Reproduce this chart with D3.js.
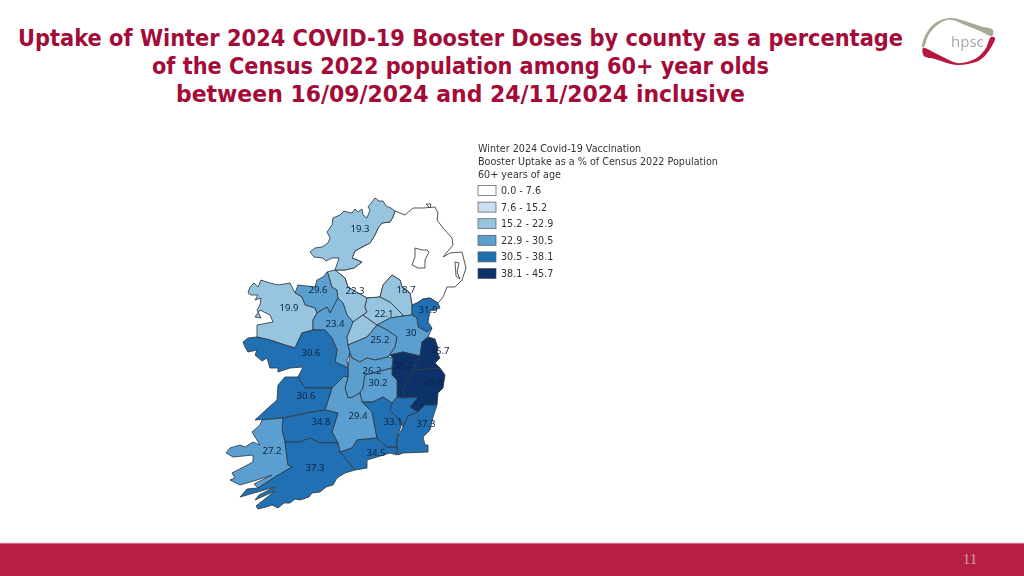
<!DOCTYPE html>
<html><head><meta charset="utf-8">
<script src="https://cdn.jsdelivr.net/npm/d3@7"></script>
<style>html,body{margin:0;padding:0;background:#fff}svg{display:block}</style>
</head><body><svg id="c" width="1024" height="576"></svg>
<script>
// ---- data ----
const titleLines = ["Uptake of Winter 2024 COVID-19 Booster Doses by county as a percentage",
  "of the Census 2022 population among 60+ year olds",
  "between 16/09/2024 and 24/11/2024 inclusive"];
const titleWidths = [885,617,569];
const legendTitle = ["Winter 2024 Covid-19 Vaccination","Booster Uptake as a % of Census 2022 Population","60+ years of age"];
const classBreaks = [7.6,15.2,22.9,30.5,38.1];
const classLabels = ["0.0 - 7.6","7.6 - 15.2","15.2 - 22.9","22.9 - 30.5","30.5 - 38.1","38.1 - 45.7"];
const classColours = ["#ffffff","#cadef1","#97c5e0","#5a9fd0","#2070b4","#08306b"];
const countyNames  = ["Donegal","Sligo","Leitrim","Mayo","Roscommon","Longford","Cavan","Monaghan","Louth","Meath","Westmeath","Dublin","Kildare","Wicklow","Offaly","Laois","Tipperary","Galway","Clare","Limerick","Kerry","Cork","Waterford","Kilkenny","Carlow","Wexford"];
const countyValues = [19.3,29.6,22.3,19.9,23.4,20.8,22.1,18.7,31.9,30,25.2,45.7,38.7,45.4,26.2,30.2,29.4,30.6,30.6,34.8,27.2,37.3,34.5,33.1,32,37.3];
// outlines, in map units
const countyRings = [
 [[375,198],[379,201],[383,201],[386,206],[391,208],[395,211],[393,217],[390,222],[382,223],[378,228],[375,235],[370,243],[362,247],[355,251],[352,258],[362,262],[354,268],[345,270],[335,270],[339,258],[332,258],[326,261],[323,258],[314,257],[310,252],[315,248],[322,247],[328,243],[330,238],[327,232],[332,225],[333,218],[340,215],[344,211],[347,212],[352,213],[355,209],[358,212],[362,209],[363,215],[367,218],[370,210],[368,207]],
 [[327,272],[328,273],[332,287],[337,290],[338,298],[330,313],[327,307],[317,313],[315,308],[305,305],[302,297],[295,293],[298,285],[315,287],[317,280],[323,277]],
 [[335,270],[345,278],[348,287],[358,293],[367,298],[365,307],[367,312],[353,322],[347,315],[343,303],[338,298],[337,290],[332,287],[328,273],[327,272]],
 [[261,280],[270,283],[278,285],[290,283],[295,293],[302,297],[305,305],[315,308],[317,313],[313,320],[313,330],[302,333],[295,348],[285,345],[270,340],[257,337],[257,325],[273,322],[270,315],[260,310],[255,317],[261,318],[257,310],[260,305],[261,298],[255,300],[258,295],[251,295],[248,293],[250,287],[254,283],[258,287]],
 [[317,313],[327,307],[330,313],[338,298],[343,303],[347,315],[353,322],[347,337],[348,345],[350,353],[347,360],[348,368],[335,362],[337,350],[332,338],[325,330],[313,330],[313,320]],
 [[353,322],[363,315],[377,325],[367,337],[348,345],[347,337]],
 [[367,298],[380,297],[390,302],[403,315],[403,316],[390,318],[377,325],[363,315],[367,312],[365,307]],
 [[380,297],[383,285],[392,275],[400,280],[402,287],[410,293],[412,305],[412,315],[403,316],[403,315],[390,302]],
 [[412,315],[412,305],[417,303],[423,299],[430,298],[438,303],[440,308],[430,311],[428,322],[432,328],[427,332],[418,327],[417,318]],
 [[377,325],[390,318],[403,316],[412,315],[417,318],[418,327],[427,332],[432,328],[428,337],[422,342],[420,356],[403,352],[390,355],[388,357],[395,347],[397,337],[387,330]],
 [[377,325],[387,330],[397,337],[395,347],[388,357],[375,360],[367,358],[360,362],[352,358],[350,353],[348,345],[367,337]],
 [[422,342],[428,337],[435,339],[438,348],[437,352],[440,358],[435,363],[440,368],[413,370],[420,356]],
 [[390,355],[403,352],[420,356],[413,370],[403,390],[405,398],[397,397],[397,380],[392,375],[392,368],[393,358]],
 [[413,370],[440,368],[445,375],[443,388],[438,393],[437,405],[425,405],[418,412],[410,407],[418,397],[405,398],[403,390]],
 [[348,368],[350,353],[352,358],[360,362],[367,358],[375,360],[388,357],[393,358],[392,368],[365,375],[363,388],[360,393],[353,397],[348,398],[345,388],[348,377]],
 [[365,375],[392,368],[392,375],[397,380],[397,397],[392,403],[383,397],[373,402],[362,402],[360,393],[363,388]],
 [[348,377],[345,388],[348,398],[353,397],[360,393],[362,402],[372,412],[377,438],[357,440],[352,448],[340,452],[338,443],[332,432],[338,413],[325,410],[332,388],[344,376]],
 [[243,342],[248,338],[257,337],[270,340],[285,345],[295,348],[302,333],[313,330],[325,330],[332,338],[337,350],[335,362],[348,368],[348,377],[344,376],[332,388],[318,388],[305,388],[303,385],[298,377],[303,367],[290,368],[278,372],[278,368],[270,368],[267,358],[262,361],[255,355],[257,350],[248,352],[245,347]],
 [[305,388],[318,388],[332,388],[325,410],[307,413],[283,418],[255,420],[268,408],[277,400],[278,385],[285,377],[298,377],[303,385]],
 [[283,418],[307,413],[325,410],[338,413],[332,432],[338,443],[320,443],[310,438],[300,442],[285,442],[282,430]],
 [[262,420],[283,418],[282,430],[285,442],[288,465],[292,467],[275,477],[258,488],[254,484],[272,475],[257,480],[240,485],[230,480],[235,478],[232,473],[253,462],[253,455],[233,457],[226,453],[230,448],[240,445],[245,447],[253,442],[260,445],[252,432],[260,425]],
 [[285,442],[300,442],[310,438],[320,443],[338,443],[340,452],[355,470],[345,473],[337,478],[333,485],[326,487],[320,492],[312,493],[309,497],[300,500],[295,499],[290,503],[284,503],[278,508],[272,505],[266,507],[258,509],[256,506],[275,491],[255,500],[259,495],[275,487],[240,497],[247,489],[258,488],[275,477],[292,467],[288,465]],
 [[340,452],[352,448],[357,440],[377,438],[387,447],[397,447],[397,455],[390,453],[377,457],[367,460],[367,468],[355,470]],
 [[362,402],[373,402],[383,397],[392,403],[390,410],[402,423],[397,438],[397,447],[387,447],[377,438],[372,412]],
 [[392,403],[397,397],[405,398],[418,397],[410,407],[418,412],[408,416],[403,427],[402,423],[390,410]],
 [[418,412],[425,405],[437,405],[433,417],[430,430],[423,437],[425,445],[428,445],[428,452],[403,453],[398,455],[397,447],[397,438],[403,427],[408,416]]
];
const northRing = [[395,211],[405,215],[413,208],[423,208],[435,207],[438,213],[437,220],[443,228],[452,238],[453,245],[443,257],[450,253],[462,252],[466,268],[462,280],[455,287],[447,287],[443,297],[438,303],[430,298],[423,299],[417,303],[412,305],[410,293],[402,287],[400,280],[392,275],[383,285],[380,297],[367,298],[358,293],[348,287],[345,278],[335,270],[345,270],[354,268],[362,262],[352,258],[355,251],[370,243],[375,235],[378,228],[382,223],[390,222],[393,217]];
const loughRings = [[[415,248],[422,250],[427,250],[429,252],[425,260],[425,268],[418,268],[412,265],[415,257]],[[455,262],[459,263],[457,272],[460,279],[456,276]],[[426,204],[431,204],[430,208],[428,206]]];
const labelSpots = [[360,229],[318,290],[355,291],[289,308],[335,324],null,[384,314],[406,290],[428,310],[411,333],[380,340],[440,351],[403,366],[434,383],[372,371],[378,383],[358,416],[311,353],[306,396],[321,422],[272,451],[315,468],[376,453],[393,422],null,[426,424]];
const logoTop = [[922,47],[926,34],[934,24],[944,19],[952,18],[965,21],[980,26],[993,30],[992,36],[980,31],[965,25],[952,20],[944,21],[935,27],[928,36],[924,47]];
const logoBottom = [[923,48],[924,56],[935,59],[947,63],[957,65],[968,64],[980,60],[988,52],[995,38],[991,37],[986,48],[978,57],[967,62],[957,63],[945,58],[935,53]];

// ---- drawing ----
const svg = d3.select("#c");
const defs = svg.append("defs");
defs.append("filter").attr("id","soft").append("feGaussianBlur").attr("stdDeviation",0.35);
svg.append("rect").attr("width",1024).attr("height",576).attr("fill","#fff");

// title
svg.append("g").selectAll("text").data(titleLines).join("text")
  .attr("x",460.5).attr("y",(d,i)=>46+i*28).attr("text-anchor","middle")
  .attr("textLength",(d,i)=>titleWidths[i]).attr("lengthAdjust","spacingAndGlyphs")
  .attr("font-family","'DejaVu Sans',sans-serif").attr("font-weight",700).attr("font-size",23)
  .attr("fill","#a30b38").text(d=>d);

// logo
const lineGen = d3.line().curve(d3.curveCatmullRomClosed.alpha(0.5));
const logo = svg.append("g").attr("filter","url(#soft)");
logo.append("path").attr("d",lineGen(logoTop)).attr("fill","#a9aa96");
logo.append("path").attr("d",lineGen(logoBottom)).attr("fill","#b8173f");
logo.append("text").attr("x",951).attr("y",47).attr("font-family","'Open Sans',sans-serif").attr("font-size",15).attr("fill","#a6a6a6").text("hpsc");

// map: GeoJSON rings must repeat their first point
const closed = r => [...r, r[0]];
const colour = d3.scaleThreshold().domain(classBreaks).range(classColours);
const features = countyNames.map((n,i)=>({type:"Feature",properties:{name:n,value:countyValues[i],spot:labelSpots[i]},geometry:{type:"Polygon",coordinates:[closed(countyRings[i])]}}));
const projection = d3.geoIdentity();
const path = d3.geoPath(projection);
const map = svg.append("g").attr("filter","url(#soft)");
const stroke = {"stroke":"#2f3a45","stroke-width":0.85,"stroke-linejoin":"round"};
const styled = s => { Object.entries(stroke).forEach(([k,v])=>s.attr(k,v)); return s; };
map.append("path").datum({type:"Polygon",coordinates:[closed(northRing)]}).attr("d",path).attr("fill",colour(0)).call(styled);
map.selectAll("path.lough").data(loughRings).join("path").attr("class","lough")
  .attr("d",r=>path({type:"Polygon",coordinates:[closed(r)]})).attr("fill","#fff").call(styled);
map.selectAll("path.county").data(features).join("path").attr("class","county")
  .attr("d",path).attr("fill",d=>colour(d.properties.value)).call(styled);
map.selectAll("text").data(features.filter(f=>f.properties.spot)).join("text")
  .attr("x",d=>projection(d.properties.spot)[0]).attr("y",d=>projection(d.properties.spot)[1])
  .attr("text-anchor","middle").attr("dominant-baseline","middle")
  .attr("font-family","'Noto Sans',sans-serif").attr("font-size",9.6).attr("fill","#0d2440")
  .text(d=>d.properties.value);

// legend
const rowY = d3.scalePoint().domain(classLabels).range([190.5,273.5]);
const legend = svg.append("g").attr("filter","url(#soft)").attr("font-family","'DejaVu Sans',sans-serif").attr("font-size",9.6).attr("fill","#333");
legend.selectAll("text.head").data(legendTitle).join("text").attr("class","head")
  .attr("x",478).attr("y",(d,i)=>151.5+i*13.3).text(d=>d);
const rows = legend.selectAll("g.row").data(classLabels).join("g").attr("class","row")
  .attr("transform",d=>`translate(0,${rowY(d)})`);
rows.append("rect").attr("x",478).attr("y",-5).attr("width",18).attr("height",10)
  .attr("fill",(d,i)=>classColours[i]).attr("stroke","#555").attr("stroke-width",0.7);
rows.append("text").attr("x",501).attr("y",3.5).text(d=>d);

// footer
svg.append("rect").attr("x",0).attr("y",543).attr("width",1024).attr("height",33).attr("fill","#b71f45");
svg.append("rect").attr("x",0).attr("y",542.5).attr("width",1024).attr("height",1).attr("fill","#f3c6d2");
svg.append("text").attr("x",970).attr("y",564).attr("text-anchor","middle").attr("font-family","'Liberation Serif',serif").attr("font-size",15).attr("fill","#c9a0a8").text("11");
</script></body></html>
